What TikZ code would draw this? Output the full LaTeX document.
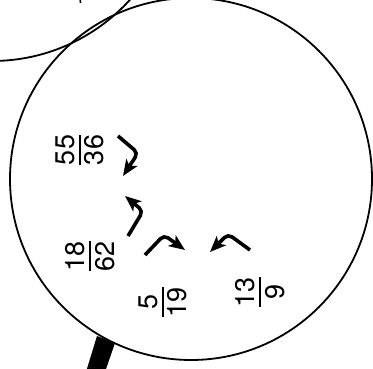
\documentclass[tikz,border=0pt]{standalone}
\usepackage{fontspec}
\setmainfont{TeX Gyre Heros}
\usetikzlibrary{arrows.meta}
\tikzset{every node/.append style={font=\fontsize{13.5}{16}\selectfont}}
\newcommand{\stk}[2]{\vbox{\halign{\hfil##\hfil\cr#1\cr\noalign{\kern2pt\hrule height 1pt\kern2pt}#2\cr}}}

\begin{document}
\begin{tikzpicture}[x=0.5pt, y=-0.5pt, >={Stealth[length=8pt, width=6.5pt, inset=2pt]},
    lens/.style={line width=0.9pt},
    hook/.style={line width=1.8pt, rounded corners=2.5pt, ->},
    frac/.style={rotate=90, inner sep=0pt}]
    \useasboundingbox (0,0) rectangle (373,368);
    \clip (0,0) rectangle (373,368);
    % the two lenses and the handle
    \draw[lens] (-8,-125) circle[radius=93pt];
    \draw[lens] (191,179) circle[radius=90.5pt];
    \fill (97,336) -- (115,343) -- (105,372) -- (86,372) -- cycle;
    \draw[line width=0.8pt] (80,-3) -- (80.5,3);
    % fractions
    \node[frac] (f1) at (80,150) {\stk{55}{36}};
    \node[frac] (f2) at (90,256) {\stk{18}{62}};
    \node[frac] (f3) at (163,302) {\stk{5}{19}};
    \node[frac] (f4) at (260,292) {\stk{13}{9}};
    % bent arrows
    \coordinate (a1s) at (118,136);
    \coordinate (a1c) at (138,153);
    \coordinate (a1e) at (123,176);
    \coordinate (a2s) at (128,236);
    \coordinate (a2c) at (143,211);
    \coordinate (a2e) at (125,196);
    \coordinate (a3s) at (145,255);
    \coordinate (a3c) at (164,235);
    \coordinate (a3e) at (185,250);
    \coordinate (a4s) at (250,250);
    \coordinate (a4c) at (228,234);
    \coordinate (a4e) at (210,252);
    \draw[hook] (a1s) -- (a1c) -- (a1e);
    \draw[hook] (a2s) -- (a2c) -- (a2e);
    \draw[hook] (a3s) -- (a3c) -- (a3e);
    \draw[hook] (a4s) -- (a4c) -- (a4e);
\end{tikzpicture}
\end{document}
